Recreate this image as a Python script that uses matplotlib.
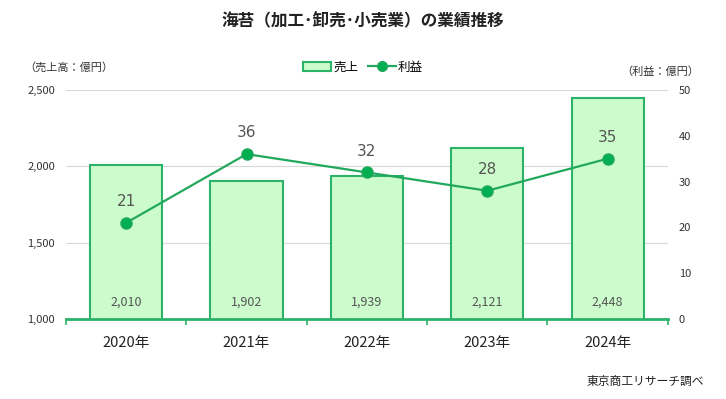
import matplotlib
matplotlib.use("Agg")
import matplotlib.pyplot as plt
from matplotlib.lines import Line2D
from matplotlib.patches import Patch

plt.rcParams["font.family"] = ["Noto Sans CJK JP", "DejaVu Sans"]

years = ["2020年", "2021年", "2022年", "2023年", "2024年"]
sales = [2010, 1902, 1939, 2121, 2448]
profit = [21, 36, 32, 28, 35]

bar_face = "#ccfccc"
bar_edge = "#2cb36a"
line_col = "#22a85c"
marker_col = "#00b050"

fig = plt.figure(figsize=(7.26, 3.99), dpi=100)
ax = fig.add_axes([0.0909, 0.2005, 0.829, 0.574])
ax2 = ax.twinx()

x = list(range(len(years)))
ax.bar(x, sales, width=0.6, bottom=0, color=bar_face, edgecolor=bar_edge,
       linewidth=1.5, zorder=2)
ax.set_ylim(1000, 2500)
ax.set_xlim(-0.5, len(years) - 0.5)
ax.set_yticks([1000, 1500, 2000, 2500])
ax.set_yticklabels([f"{v:,}" for v in [1000, 1500, 2000, 2500]])
ax.grid(axis="y", color="#d9d9d9", linewidth=0.8, zorder=0)
ax.set_axisbelow(True)

for xi, v in zip(x, sales):
    ax.text(xi, 1000 + 1500 * 0.075, f"{v:,}", ha="center", va="center",
            fontsize=9, color="#555555", zorder=3)

ax2.plot(x, profit, color=line_col, linewidth=1.6, marker="o", markersize=8,
         markerfacecolor=marker_col, markeredgecolor=line_col, zorder=4)
ax2.set_ylim(0, 50)
ax2.set_yticks(range(0, 51, 10))
for xi, v in zip(x, profit):
    ax2.annotate(str(v), (xi, v), xytext=(0, 10), textcoords="offset points",
                 ha="center", va="bottom", fontsize=11, color="#555555",
                 family="DejaVu Sans")

for a in (ax, ax2):
    for s in ("top", "left", "right", "bottom"):
        a.spines[s].set_visible(False)
ax.spines["bottom"].set_visible(True)
ax.spines["bottom"].set_color(bar_edge)
ax.spines["bottom"].set_linewidth(2)

ax.tick_params(axis="y", length=0, labelsize=8, labelcolor="#333333", pad=8)
ax2.tick_params(axis="y", length=0, labelsize=8, labelcolor="#333333", pad=8)

# category boundary ticks on the x axis
ax.set_xticks([i - 0.5 for i in range(len(years) + 1)], minor=False)
ax.set_xticklabels([""] * (len(years) + 1))
ax.tick_params(axis="x", which="major", length=4, width=1.2, color=bar_edge,
               direction="out")
ax.set_xticks(x, minor=True)
ax.set_xticklabels(years, minor=True)
ax.tick_params(axis="x", which="minor", length=0, labelsize=10.5,
               labelcolor="#222222", pad=12)

ax.set_zorder(ax2.get_zorder() - 1)
ax.patch.set_visible(False)

fig.text(0.5, 0.948, "海苔（加工･卸売･小売業）の業績推移", ha="center", va="center",
         fontsize=12, fontweight="bold", color="#222222")
fig.text(0.034, 0.832, "（売上高：億円）", ha="left", va="center", fontsize=8,
         color="#333333")
fig.text(0.963, 0.82, "（利益：億円）", ha="right", va="center", fontsize=8,
         color="#333333")
fig.text(0.97, 0.045, "東京商工リサーチ調べ", ha="right", va="center",
         fontsize=8.5, color="#222222")

handles = [
    Patch(facecolor=bar_face, edgecolor=bar_edge, linewidth=1.5, label="売上"),
    Line2D([0], [0], color=line_col, linewidth=1.6, marker="o", markersize=7,
           markerfacecolor=marker_col, label="利益"),
]
fig.legend(handles=handles, loc="center", bbox_to_anchor=(0.5, 0.832), ncol=2,
           frameon=False, fontsize=9, handlelength=2.2, handleheight=0.7,
           columnspacing=0.8, handletextpad=0.2)

fig.savefig("out.png", dpi=100)
